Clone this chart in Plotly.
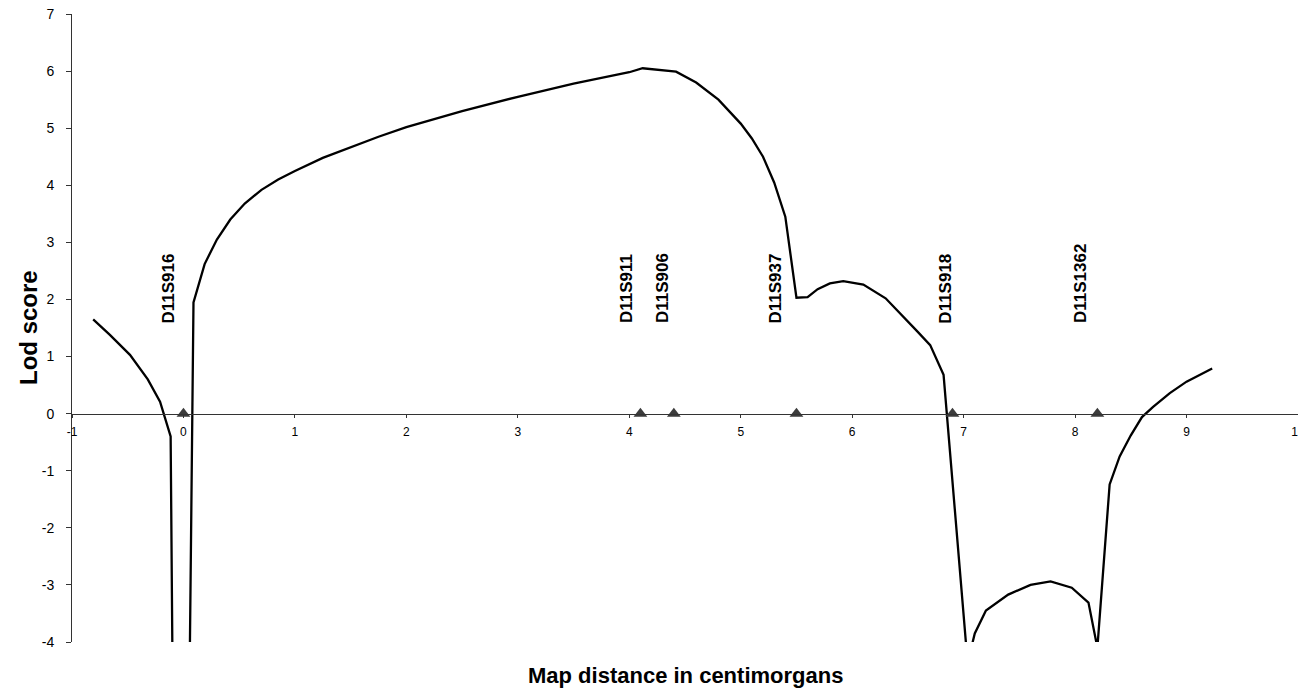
import plotly.graph_objects as go

# LOD-score curve (map distance in cM, lod score); values beyond -4 are clipped by the axis
dist = [-0.81, -0.66, -0.48, -0.32, -0.21, -0.17, -0.115, -0.10, -0.097,
        0.05, 0.058, 0.09, 0.19, 0.30, 0.42, 0.55, 0.70, 0.85, 1.0, 1.25, 1.5,
        1.75, 2.0, 2.5, 3.0, 3.5, 4.0, 4.12, 4.42, 4.6, 4.8, 5.0, 5.1, 5.2,
        5.3, 5.4, 5.5, 5.6, 5.69, 5.8, 5.92, 6.1, 6.3, 6.45, 6.58, 6.7, 6.82,
        7.02, 7.04, 7.075, 7.1, 7.2, 7.4, 7.6, 7.78, 7.97, 8.12, 8.2, 8.31,
        8.4, 8.5, 8.6, 8.7, 8.85, 9.0, 9.23]
lod = [1.65, 1.38, 1.03, 0.60, 0.21, -0.05, -0.40, -4.0, -10.0,
       -10.0, -4.05, 1.95, 2.62, 3.05, 3.40, 3.68, 3.92, 4.10, 4.25, 4.48, 4.67,
       4.85, 5.02, 5.30, 5.55, 5.78, 5.98, 6.05, 5.99, 5.80, 5.50, 5.08, 4.82, 4.50,
       4.05, 3.45, 2.03, 2.04, 2.18, 2.28, 2.32, 2.26, 2.02, 1.72, 1.45, 1.20, 0.68,
       -4.0, -5.0, -4.05, -3.85, -3.45, -3.17, -3.00, -2.94, -3.05, -3.31, -4.1, -1.24,
       -0.75, -0.38, -0.06, 0.12, 0.36, 0.56, 0.79]

# markers
marker_names = ["D11S916", "D11S911", "D11S906", "D11S937", "D11S918", "D11S1362"]
marker_pos = [0.0, 4.1, 4.4, 5.5, 6.9, 8.2]
marker_lod = [0, 0, 0, 0, 0, 0]

x_ticks = list(range(-1, 11))
y_ticks = list(range(-4, 8))

# label pixel offsets (layout only)
label_xshift = [-15, -14, -12, -21, -7, -17]

FONT = "Liberation Sans, Arial, sans-serif"

fig = go.Figure()
fig.add_trace(go.Scatter(x=dist, y=lod, mode="lines",
                         line=dict(color="black", width=2.3),
                         showlegend=False, hoverinfo="skip"))
fig.add_trace(go.Scatter(x=marker_pos, y=marker_lod, mode="markers",
                         marker=dict(symbol="triangle-up", size=12, color="#3c3c3c",
                                     line=dict(width=0)),
                         showlegend=False, cliponaxis=False))

for name, xp, sh in zip(marker_names, marker_pos, label_xshift):
    fig.add_annotation(x=xp, y=1.55, xref="x", yref="y", text=name, textangle=-90,
                       showarrow=False, xanchor="center", yanchor="bottom", xshift=sh,
                       font=dict(family=FONT, size=17, color="black", weight="bold"))

fig.add_annotation(xref="paper", yref="paper", x=0, y=0.5, xshift=-44,
                   text="Lod score", textangle=-90, showarrow=False,
                   xanchor="center", yanchor="middle",
                   font=dict(family=FONT, size=24, color="black", weight="bold"))
fig.add_annotation(xref="paper", yref="paper", x=0.5, y=0, yshift=-33,
                   text="Map distance in centimorgans", showarrow=False,
                   xanchor="center", yanchor="middle",
                   font=dict(family=FONT, size=22, color="black", weight="bold"))

fig.update_layout(
    width=1298, height=688,
    margin=dict(l=72, r=0, t=14, b=46, autoexpand=False),
    paper_bgcolor="white", plot_bgcolor="white",
    font=dict(family=FONT, color="black"),
    xaxis=dict(range=[-1, 10], tickvals=x_ticks, ticktext=[str(v) for v in x_ticks],
               anchor="free", position=4 / 11, showline=True, linecolor="#333",
               linewidth=1, ticks="outside", ticklen=3, tickcolor="#333",
               showgrid=False, zeroline=False, tickfont=dict(size=12),
               ticklabelstandoff=4, automargin=False, ticklabeloverflow="allow"),
    yaxis=dict(range=[-4, 7], tickvals=y_ticks, ticktext=[str(v) for v in y_ticks],
               showline=True, linecolor="#333",
               linewidth=1, ticks="outside", ticklen=5, tickcolor="#333",
               showgrid=False, zeroline=False, tickfont=dict(size=14),
               ticklabelstandoff=9, automargin=False),
)

fig.write_html("out.html", config={"displayModeBar": False},
               post_script="document.body.style.margin='0';document.body.style.overflow='hidden';")
